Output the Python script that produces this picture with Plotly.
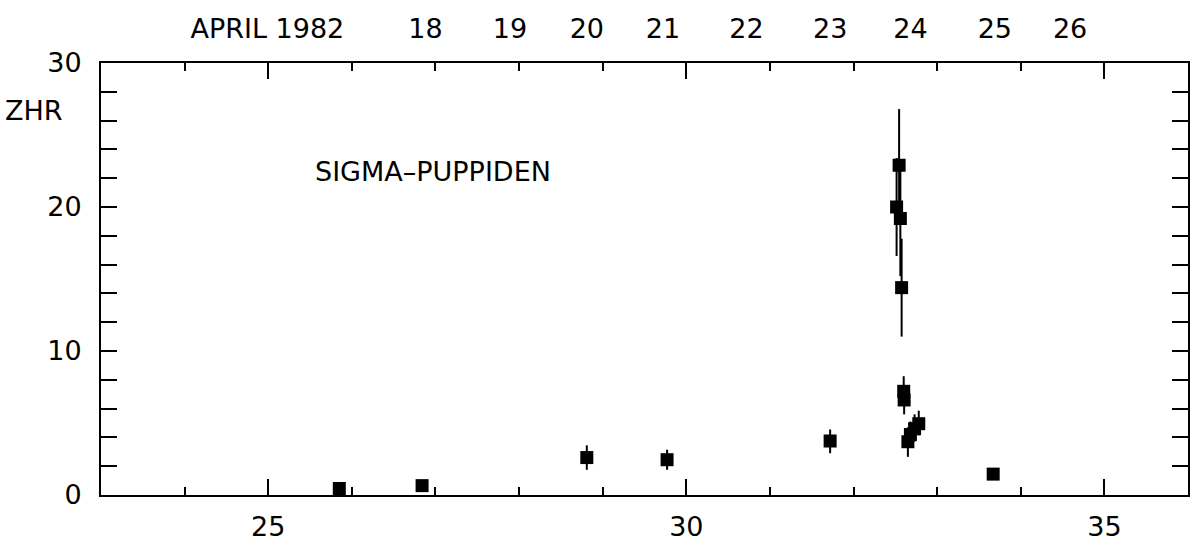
import plotly.graph_objects as go

# Solar longitude (bottom axis) and zenithal hourly rate of each observation
lam = [25.85, 26.84, 28.81, 29.77, 31.72,
       32.515, 32.545, 32.56, 32.575,
       32.60, 32.605, 32.65, 32.68, 32.73, 32.78, 33.67]
zhr = [0.45, 0.65, 2.6, 2.45, 3.75,
       20.0, 22.9, 19.2, 14.4,
       7.2, 6.6, 3.7, 4.2, 4.6, 4.95, 1.45]
err_up = [0.0, 0.0, 0.85, 0.7, 0.8,
          3.4, 3.9, 4.0, 3.4,
          1.05, 1.0, 1.0, 0.9, 1.0, 0.9, 0.0]
err_dn = [0.0, 0.0, 0.85, 0.7, 0.85,
          3.4, 3.9, 4.0, 3.4,
          1.0, 1.0, 1.05, 0.9, 0.9, 0.8, 0.0]

# Calendar dates along the top axis
date_pos = [24.99, 26.88, 27.89, 28.81, 29.72, 30.72, 31.72, 32.68, 33.69, 34.59]
date_txt = ["APRIL 1982", "18", "19", "20", "21", "22", "23", "24", "25", "26"]

FONT = "DejaVu Sans"
INK = "black"
SIZE = 27

fig = go.Figure()
fig.add_trace(go.Scatter(
    x=lam, y=zhr, mode="markers",
    marker=dict(symbol="square", size=13, color=INK, line=dict(width=0)),
    error_y=dict(type="data", symmetric=False, array=err_up, arrayminus=err_dn,
                 thickness=2, width=0, color=INK),
    showlegend=False, hoverinfo="skip",
))
# carrier for the date axis
fig.add_trace(go.Scatter(x=[23, 36], y=[0, 0], xaxis="x2", mode="markers",
                         marker=dict(opacity=0), showlegend=False, hoverinfo="skip"))

fig.update_layout(
    width=1191, height=543,
    margin=dict(l=101, r=3, t=63, b=48),
    paper_bgcolor="white", plot_bgcolor="white",
    font=dict(family=FONT, size=SIZE, color=INK),
    xaxis=dict(
        range=[23, 36], tickvals=[25, 30, 35], ticktext=["25", "30", "35"],
        ticks="inside", ticklen=16, tickwidth=2, tickcolor=INK,
        minor=dict(dtick=1, ticks="inside", ticklen=8, tickwidth=2, tickcolor=INK),
        showline=True, linecolor=INK, linewidth=2, mirror="allticks",
        showgrid=False, zeroline=False, ticklabelstandoff=7, automargin=False,
        tickfont=dict(family=FONT, size=SIZE, color=INK),
    ),
    xaxis2=dict(
        range=[23, 36], overlaying="x", side="top",
        tickvals=date_pos, ticktext=date_txt, ticks="",
        showline=False, showgrid=False, zeroline=False, ticklabelstandoff=19,
        automargin=False,
        tickfont=dict(family=FONT, size=SIZE, color=INK),
    ),
    yaxis=dict(
        range=[0, 30], tickvals=[0, 10, 20, 30],
        ticks="inside", ticklen=16, tickwidth=2, tickcolor=INK,
        minor=dict(dtick=2, ticks="inside", ticklen=8, tickwidth=2, tickcolor=INK),
        showline=True, linecolor=INK, linewidth=2, mirror="allticks",
        showgrid=False, zeroline=False, ticklabelstandoff=12, automargin=False,
        tickfont=dict(family=FONT, size=SIZE, color=INK),
    ),
    annotations=[
        dict(text="ZHR", xref="paper", yref="paper", x=-101 / 1087, y=1 - (110 - 63) / 432,
             xanchor="left", yanchor="middle", showarrow=False,
             font=dict(family=FONT, size=SIZE, color=INK), xshift=3),
        dict(text="SIGMA\u2013PUPPIDEN", xref="x", yref="y", x=25.53, y=22.5,
             xanchor="left", yanchor="middle", showarrow=False,
             font=dict(family=FONT, size=SIZE, color=INK)),
    ],
)

fig.write_html("out.html")
